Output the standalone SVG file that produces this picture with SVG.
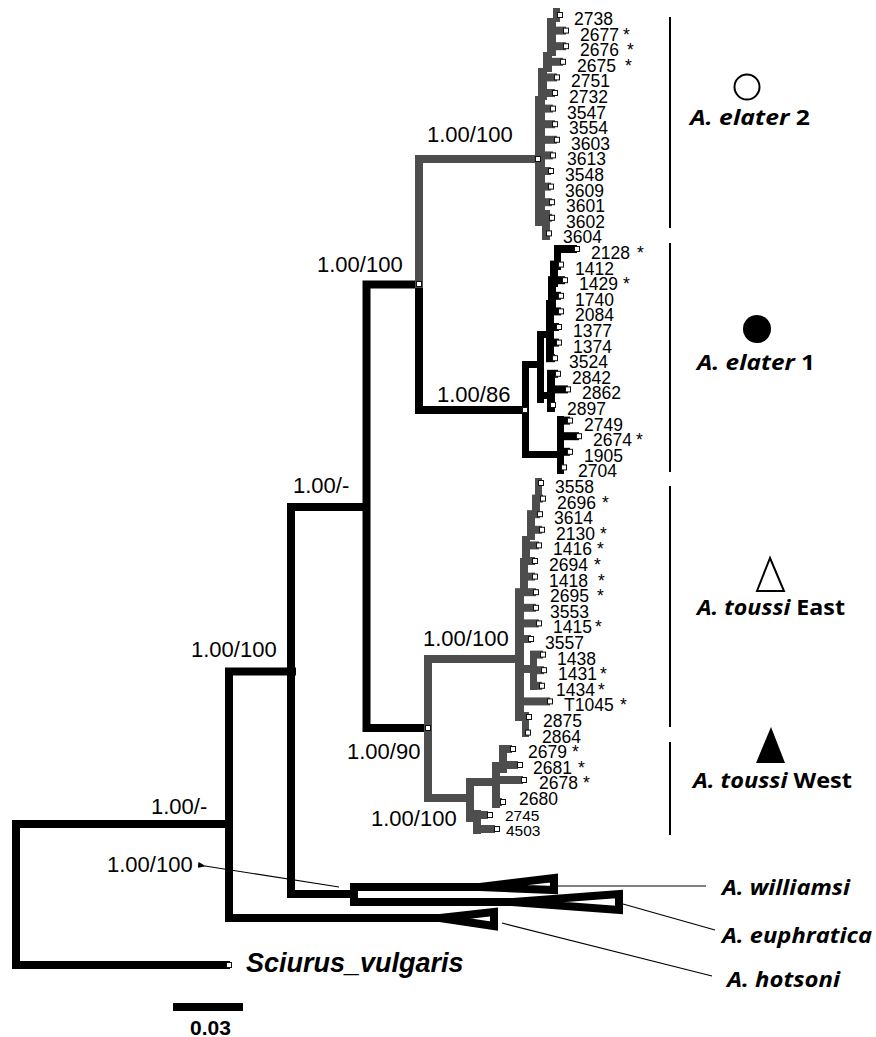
<svg xmlns="http://www.w3.org/2000/svg" width="876" height="1037" viewBox="0 0 876 1037">
<defs>
<style>
.br{fill:none;stroke:#000;stroke-width:8;stroke-linejoin:miter;stroke-linecap:square}
.gbr{fill:none;stroke:#4d4d4d;stroke-width:8;stroke-linejoin:miter;stroke-linecap:square}
.tri{fill:none;stroke:#000;stroke-width:8;stroke-linejoin:miter;stroke-miterlimit:20}
.g{fill:#4d4d4d}
.k{fill:#000}
.sq{fill:#fff;stroke:#111;stroke-width:1}
.tip{font-family:"Liberation Sans",Arial,sans-serif;font-size:17.5px;fill:#000}
.tip2{font-family:"Liberation Sans",Arial,sans-serif;font-size:15.5px;fill:#000}
.sup{font-family:"Liberation Sans",Arial,sans-serif;font-size:22px;fill:#000}
.leg{font-family:"Open Sans",Lato,sans-serif;font-size:22px;font-weight:bold;fill:#000}
.thin{fill:none;stroke:#000;stroke-width:1.2}
.bar{fill:none;stroke:#000;stroke-width:2}
</style>
<marker id="ah" markerWidth="8" markerHeight="6" refX="1" refY="3" orient="auto" markerUnits="userSpaceOnUse">
<path d="M8,0 L0,3 L8,6 Z" fill="#000"/>
</marker>
</defs>
<rect width="876" height="1037" fill="#fff"/>

<g id="connectors">
<path class="br" d="M226,965 H16 V824 H229"/>
<path class="br" d="M292,671.5 H229 V918 H440"/>
<path class="br" d="M366,507 H291 V894 H354"/>
<path class="br" d="M480,887 H354 V902 H513"/>
<path class="br" d="M419,284.5 H366.5 V728 H428"/>
<path class="br" d="M419,288 V410 H525"/>
<path class="gbr" d="M419,284 V159 H538"/>
<path class="gbr" d="M519,659 H428 V798 H470"/>
<polygon class="tri" points="440,918 494,912 494,926"/>
<polygon class="tri" points="480,887 554,878 554,890"/>
<polygon class="tri" points="513,902 619,894 619,910"/>
<line class="thin" x1="558" y1="886" x2="706" y2="886"/>
<line class="thin" x1="623" y1="904" x2="715" y2="930"/>
<line class="thin" x1="502" y1="923" x2="712" y2="976"/>
<line class="thin" x1="339" y1="887" x2="205" y2="866" marker-end="url(#ah)"/>
</g>

<g id="clade-elater2">
<rect class="g" x="553" y="8" width="7" height="14"/>
<rect class="g" x="547" y="18" width="9" height="38"/>
<rect class="g" x="543" y="52" width="9" height="20"/>
<rect class="g" x="538" y="68" width="9" height="32"/>
<rect class="g" x="535" y="96" width="10" height="130"/>
<rect class="g" x="542" y="210" width="8" height="30"/>
<rect class="g" x="553" y="11" width="7" height="8"/>
<rect class="g" x="547" y="26.6" width="19" height="8"/>
<rect class="g" x="547" y="42.2" width="19" height="8"/>
<rect class="g" x="543" y="57.8" width="20" height="8"/>
<rect class="g" x="538" y="73.4" width="19" height="8"/>
<rect class="g" x="538" y="89" width="17" height="8"/>
<rect class="g" x="535" y="104.6" width="18" height="8"/>
<rect class="g" x="535" y="120.2" width="20" height="8"/>
<rect class="g" x="535" y="135.8" width="22" height="8"/>
<rect class="g" x="535" y="151.4" width="18" height="8"/>
<rect class="g" x="535" y="167" width="16" height="8"/>
<rect class="g" x="535" y="182.6" width="16" height="8"/>
<rect class="g" x="535" y="198.2" width="17" height="8"/>
<rect class="g" x="535" y="213.8" width="17" height="8"/>
<rect class="g" x="542" y="229.4" width="7" height="8"/>
</g>

<g id="clade-elater1">
<rect class="k" x="554" y="245" width="7" height="25"/>
<rect class="k" x="550" y="262" width="8" height="25"/>
<rect class="k" x="548" y="278" width="8" height="30"/>
<rect class="k" x="546" y="300" width="8" height="62"/>
<rect class="k" x="537" y="331" width="7" height="72"/>
<rect class="k" x="537" y="331" width="14" height="7"/>
<rect class="k" x="537" y="392" width="15" height="7"/>
<rect class="k" x="547" y="370" width="8" height="42"/>
<rect class="k" x="522" y="361" width="7" height="97"/>
<rect class="k" x="522" y="361" width="20" height="7"/>
<rect class="k" x="522" y="451" width="41" height="7"/>
<rect class="k" x="557" y="416" width="7" height="58"/>
<rect class="k" x="554" y="245" width="23" height="8"/>
<rect class="k" x="550" y="260.6" width="11" height="8"/>
<rect class="k" x="548" y="276.2" width="17" height="8"/>
<rect class="k" x="548" y="291.8" width="13" height="8"/>
<rect class="k" x="546" y="307.4" width="15" height="8"/>
<rect class="k" x="546" y="323" width="13" height="8"/>
<rect class="k" x="546" y="338.6" width="13" height="8"/>
<rect class="k" x="546" y="354.2" width="9" height="8"/>
<rect class="k" x="547" y="369.8" width="11" height="8"/>
<rect class="k" x="547" y="385.4" width="21" height="8"/>
<rect class="k" x="547" y="401" width="6" height="8"/>
<rect class="k" x="557" y="416.6" width="13" height="8"/>
<rect class="k" x="557" y="432.2" width="22" height="8"/>
<rect class="k" x="557" y="447.8" width="13" height="8"/>
<rect class="k" x="557" y="463.4" width="7" height="8"/>
</g>

<g id="clade-toussi-east">
<rect class="g" x="535" y="478" width="7" height="24"/>
<rect class="g" x="532" y="496" width="8" height="22"/>
<rect class="g" x="527" y="512" width="8" height="28"/>
<rect class="g" x="522" y="536" width="8" height="28"/>
<rect class="g" x="520" y="558" width="8" height="36"/>
<rect class="g" x="515" y="590" width="9" height="130"/>
<rect class="g" x="530" y="652" width="7" height="38"/>
<rect class="g" x="515" y="665" width="16" height="8"/>
<rect class="g" x="522" y="712" width="7" height="25"/>
<rect class="g" x="535" y="479" width="6" height="8"/>
<rect class="g" x="532" y="494.6" width="11" height="8"/>
<rect class="g" x="527" y="510.2" width="13" height="8"/>
<rect class="g" x="527" y="525.8" width="15" height="8"/>
<rect class="g" x="522" y="541.4" width="17" height="8"/>
<rect class="g" x="522" y="557" width="13" height="8"/>
<rect class="g" x="520" y="572.6" width="15" height="8"/>
<rect class="g" x="515" y="588.2" width="21" height="8"/>
<rect class="g" x="515" y="603.8" width="21" height="8"/>
<rect class="g" x="515" y="619.4" width="24" height="8"/>
<rect class="g" x="515" y="635" width="16" height="8"/>
<rect class="g" x="530" y="650.6" width="13" height="8"/>
<rect class="g" x="530" y="666.2" width="14" height="8"/>
<rect class="g" x="530" y="681.8" width="12" height="8"/>
<rect class="g" x="515" y="697.4" width="35" height="8"/>
<rect class="g" x="515" y="713" width="14" height="8"/>
<rect class="g" x="522" y="728.6" width="6" height="8"/>
</g>

<g id="clade-toussi-west">
<rect class="g" x="466" y="778" width="8" height="44"/>
<rect class="g" x="473" y="810" width="8" height="24"/>
<rect class="g" x="466" y="778" width="32" height="8"/>
<rect class="g" x="492" y="762" width="8" height="46"/>
<rect class="g" x="492" y="798" width="10" height="8"/>
<rect class="g" x="492" y="776" width="31" height="8"/>
<rect class="g" x="499" y="745" width="8" height="28"/>
<rect class="g" x="499" y="745" width="13" height="8"/>
<rect class="g" x="499" y="761" width="19" height="8"/>
<rect class="g" x="473" y="811" width="15" height="8"/>
<rect class="g" x="473" y="825" width="22" height="8"/>
</g>

<g id="node-squares">
<rect class="sq" x="226.5" y="962.5" width="5" height="5"/>
<rect class="sq" x="416.5" y="281.5" width="5" height="5"/>
<rect class="sq" x="522.5" y="407.5" width="5" height="5"/>
<rect class="sq" x="535.5" y="156.5" width="5" height="5"/>
<rect class="sq" x="425.5" y="725.5" width="5" height="5"/>
<rect class="sq" x="557.5" y="12.5" width="5" height="5"/>
<rect class="sq" x="563.5" y="28.1" width="5" height="5"/>
<rect class="sq" x="563.5" y="43.7" width="5" height="5"/>
<rect class="sq" x="560.5" y="59.3" width="5" height="5"/>
<rect class="sq" x="554.5" y="74.9" width="5" height="5"/>
<rect class="sq" x="552.5" y="90.5" width="5" height="5"/>
<rect class="sq" x="550.5" y="106.1" width="5" height="5"/>
<rect class="sq" x="552.5" y="121.7" width="5" height="5"/>
<rect class="sq" x="554.5" y="137.3" width="5" height="5"/>
<rect class="sq" x="550.5" y="152.9" width="5" height="5"/>
<rect class="sq" x="548.5" y="168.5" width="5" height="5"/>
<rect class="sq" x="548.5" y="184.1" width="5" height="5"/>
<rect class="sq" x="549.5" y="199.7" width="5" height="5"/>
<rect class="sq" x="549.5" y="215.3" width="5" height="5"/>
<rect class="sq" x="546.5" y="230.9" width="5" height="5"/>
<rect class="sq" x="574.5" y="246.5" width="5" height="5"/>
<rect class="sq" x="558.5" y="262.1" width="5" height="5"/>
<rect class="sq" x="562.5" y="277.7" width="5" height="5"/>
<rect class="sq" x="558.5" y="293.3" width="5" height="5"/>
<rect class="sq" x="558.5" y="308.9" width="5" height="5"/>
<rect class="sq" x="556.5" y="324.5" width="5" height="5"/>
<rect class="sq" x="556.5" y="340.1" width="5" height="5"/>
<rect class="sq" x="552.5" y="355.7" width="5" height="5"/>
<rect class="sq" x="555.5" y="371.3" width="5" height="5"/>
<rect class="sq" x="565.5" y="386.9" width="5" height="5"/>
<rect class="sq" x="550.5" y="402.5" width="5" height="5"/>
<rect class="sq" x="567.5" y="418.1" width="5" height="5"/>
<rect class="sq" x="576.5" y="433.7" width="5" height="5"/>
<rect class="sq" x="567.5" y="449.3" width="5" height="5"/>
<rect class="sq" x="561.5" y="464.9" width="5" height="5"/>
<rect class="sq" x="538.5" y="480.5" width="5" height="5"/>
<rect class="sq" x="540.5" y="496.1" width="5" height="5"/>
<rect class="sq" x="537.5" y="511.7" width="5" height="5"/>
<rect class="sq" x="539.5" y="527.3" width="5" height="5"/>
<rect class="sq" x="536.5" y="542.9" width="5" height="5"/>
<rect class="sq" x="532.5" y="558.5" width="5" height="5"/>
<rect class="sq" x="532.5" y="574.1" width="5" height="5"/>
<rect class="sq" x="533.5" y="589.7" width="5" height="5"/>
<rect class="sq" x="533.5" y="605.3" width="5" height="5"/>
<rect class="sq" x="536.5" y="620.9" width="5" height="5"/>
<rect class="sq" x="528.5" y="636.5" width="5" height="5"/>
<rect class="sq" x="540.5" y="652.1" width="5" height="5"/>
<rect class="sq" x="541.5" y="667.7" width="5" height="5"/>
<rect class="sq" x="539.5" y="683.3" width="5" height="5"/>
<rect class="sq" x="547.5" y="698.9" width="5" height="5"/>
<rect class="sq" x="526.5" y="714.5" width="5" height="5"/>
<rect class="sq" x="525.5" y="730.1" width="5" height="5"/>
<rect class="sq" x="510.5" y="746.5" width="5" height="5"/>
<rect class="sq" x="517.5" y="762.5" width="5" height="5"/>
<rect class="sq" x="521.5" y="777.5" width="5" height="5"/>
<rect class="sq" x="500.5" y="799.5" width="5" height="5"/>
<rect class="sq" x="487.5" y="812.5" width="5" height="5"/>
<rect class="sq" x="494.5" y="826.5" width="5" height="5"/>
</g>

<g id="support-values">
<text class="sup" x="427" y="142">1.00/100</text>
<text class="sup" x="317" y="272">1.00/100</text>
<text class="sup" x="437" y="402">1.00/86</text>
<text class="sup" x="293" y="493">1.00/-</text>
<text class="sup" x="423" y="646">1.00/100</text>
<text class="sup" x="191" y="657">1.00/100</text>
<text class="sup" x="347" y="759">1.00/90</text>
<text class="sup" x="151" y="814">1.00/-</text>
<text class="sup" x="371" y="826">1.00/100</text>
<text class="sup" x="107" y="872">1.00/100</text>
</g>

<g id="tip-labels">
<text class="tip" x="574" y="25">2738</text>
<text class="tip" x="580" y="40.6">2677</text><text class="tip" x="623" y="40.6">*</text>
<text class="tip" x="580" y="56.2">2676</text><text class="tip" x="627" y="56.2">*</text>
<text class="tip" x="577" y="71.8">2675</text><text class="tip" x="625" y="71.8">*</text>
<text class="tip" x="571" y="87.4">2751</text>
<text class="tip" x="569" y="103">2732</text>
<text class="tip" x="567" y="118.6">3547</text>
<text class="tip" x="569" y="134.2">3554</text>
<text class="tip" x="571" y="149.8">3603</text>
<text class="tip" x="567" y="165.4">3613</text>
<text class="tip" x="565" y="181">3548</text>
<text class="tip" x="565" y="196.6">3609</text>
<text class="tip" x="566" y="212.2">3601</text>
<text class="tip" x="566" y="227.8">3602</text>
<text class="tip" x="563" y="243.4">3604</text>
<text class="tip" x="591" y="259">2128</text><text class="tip" x="637" y="259">*</text>
<text class="tip" x="575" y="274.6">1412</text>
<text class="tip" x="579" y="290.2">1429</text><text class="tip" x="623" y="290.2">*</text>
<text class="tip" x="575" y="305.8">1740</text>
<text class="tip" x="575" y="321.4">2084</text>
<text class="tip" x="573" y="337">1377</text>
<text class="tip" x="573" y="352.6">1374</text>
<text class="tip" x="569" y="368.2">3524</text>
<text class="tip" x="572" y="383.8">2842</text>
<text class="tip" x="582" y="399.4">2862</text>
<text class="tip" x="567" y="415">2897</text>
<text class="tip" x="584" y="430.6">2749</text>
<text class="tip" x="593" y="446.2">2674</text><text class="tip" x="636" y="446.2">*</text>
<text class="tip" x="584" y="461.8">1905</text>
<text class="tip" x="578" y="477.4">2704</text>
<text class="tip" x="555" y="493">3558</text>
<text class="tip" x="557" y="508.6">2696</text><text class="tip" x="602" y="508.6">*</text>
<text class="tip" x="554" y="524.2">3614</text>
<text class="tip" x="556" y="539.8">2130</text><text class="tip" x="600" y="539.8">*</text>
<text class="tip" x="553" y="555.4">1416</text><text class="tip" x="597" y="555.4">*</text>
<text class="tip" x="549" y="571">2694</text><text class="tip" x="594" y="571">*</text>
<text class="tip" x="549" y="586.6">1418</text><text class="tip" x="598" y="586.6">*</text>
<text class="tip" x="550" y="602.2">2695</text><text class="tip" x="597" y="602.2">*</text>
<text class="tip" x="550" y="617.8">3553</text>
<text class="tip" x="553" y="633.4">1415</text><text class="tip" x="595" y="633.4">*</text>
<text class="tip" x="545" y="649">3557</text>
<text class="tip" x="557" y="664.6">1438</text>
<text class="tip" x="558" y="680.2">1431</text><text class="tip" x="600" y="680.2">*</text>
<text class="tip" x="556" y="695.8">1434</text><text class="tip" x="598" y="695.8">*</text>
<text class="tip" x="564" y="711.4">T1045</text><text class="tip" x="620" y="711.4">*</text>
<text class="tip" x="543" y="727">2875</text>
<text class="tip" x="542" y="742.6">2864</text>
<text class="tip" x="528" y="758.2">2679</text><text class="tip" x="572" y="758.2">*</text>
<text class="tip" x="533" y="773.8">2681</text><text class="tip" x="578" y="773.8">*</text>
<text class="tip" x="539" y="789.4">2678</text><text class="tip" x="583" y="789.4">*</text>
<text class="tip" x="519" y="805">2680</text>
<text class="tip2" x="505" y="820.6">2745</text>
<text class="tip2" x="506" y="836.2">4503</text>
</g>

<g id="outgroup-labels">
<text x="246" y="972" style="font-family:'Liberation Sans',Arial,sans-serif;font-size:27px;font-weight:bold;font-style:italic">Sciurus_vulgaris</text>
<text class="leg" x="722" y="895" font-style="italic" textLength="128" lengthAdjust="spacingAndGlyphs">A. williamsi</text>
<text class="leg" x="722" y="943" font-style="italic" textLength="150" lengthAdjust="spacingAndGlyphs">A. euphratica</text>
<text class="leg" x="727" y="987" font-style="italic" textLength="113" lengthAdjust="spacingAndGlyphs">A. hotsoni</text>
</g>

<g id="legend">
<line class="bar" x1="670" y1="17" x2="670" y2="228"/>
<line class="bar" x1="670" y1="243" x2="670" y2="472"/>
<line class="bar" x1="670" y1="486" x2="670" y2="727"/>
<line class="bar" x1="670" y1="742" x2="670" y2="835"/>
<circle cx="747" cy="87" r="12.5" fill="none" stroke="#000" stroke-width="2"/>
<text class="leg" x="690" y="125" textLength="120" lengthAdjust="spacingAndGlyphs"><tspan font-style="italic">A. elater</tspan> 2</text>
<circle cx="757" cy="329" r="14" fill="#000"/>
<text class="leg" x="697" y="370" textLength="118" lengthAdjust="spacingAndGlyphs"><tspan font-style="italic">A. elater</tspan> 1</text>
<polygon points="770,558 757,591 784,591" fill="none" stroke="#000" stroke-width="2"/>
<text class="leg" x="697" y="615" textLength="148" lengthAdjust="spacingAndGlyphs"><tspan font-style="italic">A. toussi</tspan> East</text>
<polygon points="771,727 756,763 785,763" fill="#000"/>
<text class="leg" x="693" y="788" textLength="159" lengthAdjust="spacingAndGlyphs"><tspan font-style="italic">A. toussi</tspan> West</text>
</g>

<g id="scale">
<rect x="173" y="1003" width="70" height="8" fill="#000"/>
<text x="190" y="1035" style="font-family:'Liberation Sans',Arial,sans-serif;font-size:21px;font-weight:bold">0.03</text>
</g>
</svg>
